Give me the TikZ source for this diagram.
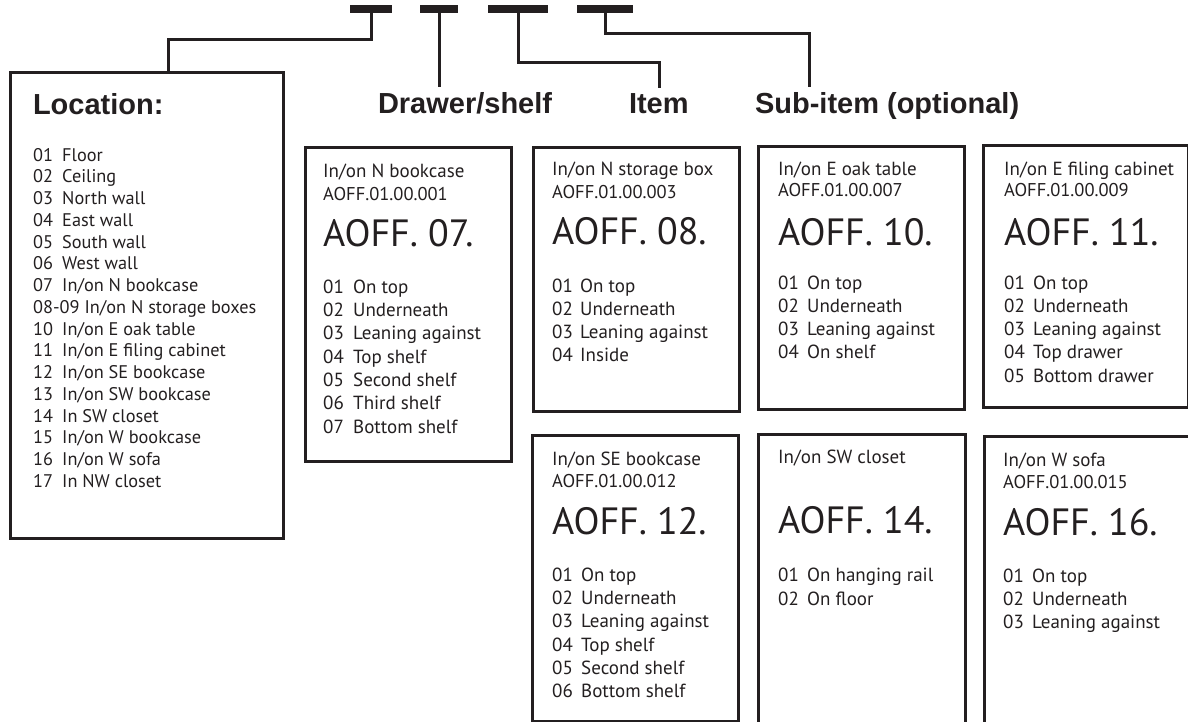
\documentclass[tikz,border=0pt]{standalone}
\usepackage{fontspec}
\setmainfont{PT Sans}
\newfontfamily\headfont{Liberation Sans}
\definecolor{ink}{HTML}{231F20}

% one list of numbered entries: name, x of number, x of text, y of first baseline, pitch, entries
\newcommand\entries[6]{%
  \foreach \cnum/\ctxt [count=\k] in {#6} {
    \node[txt] (#1n\k) at (#2,{#4+#5*(\k-1)}) {\cnum};
    \node[txt] (#1t\k) at (#3,{#4+#5*(\k-1)}) {\ctxt};
  }}

\begin{document}
\begin{tikzpicture}[x=1pt,y=-1pt,
  bar/.style={fill=ink, draw=none, inner sep=0pt, outer sep=0pt,
              minimum width=#1, minimum height=8.3pt},
  frame/.style={draw=ink, line width=3pt, anchor=north west, inner sep=0pt},
  conn/.style={draw=ink, line width=3pt},
  head/.style={text=ink, anchor=base west, inner sep=0pt, outer xsep=0pt, outer ysep=5pt,
               font=\headfont\bfseries\fontsize{29}{29}\selectfont},
  txt/.style={text=ink, anchor=base west, inner sep=0pt, font=\fontsize{19}{19}\selectfont},
  ltxt/.style={txt, font=\fontsize{18.3}{18.3}\selectfont},
  code/.style={txt, font=\fontsize{18.5}{18.5}\selectfont},
  big/.style={txt, font=\fontsize{38}{38}\selectfont},
]
\useasboundingbox (0,0) rectangle (1188,721);
\clip (0,0) rectangle (1188,721);

% code field bars
\node[bar=42pt] (bar1) at (371,9.2) {};
\node[bar=38pt] (bar2) at (439,9.2) {};
\node[bar=60pt] (bar3) at (518,9.2) {};
\node[bar=56pt] (bar4) at (605,9.2) {};

% headings
\node[head] (hloc) at (33,114) {Location:};
\node[head] (hdraw) at (378,113) {Drawer/shelf};
\node[head] (hitem) at (629,113) {Item};
\node[head] (hsub) at (755,113) {Sub-item (optional)};

% boxes
\node[frame, minimum width=273pt, minimum height=466pt] (loc)  at (8.5,71) {};
\node[frame, minimum width=206pt, minimum height=314pt] (bk07) at (304,146) {};
\node[frame, minimum width=206pt, minimum height=264pt] (bx08) at (531.7,146) {};
\node[frame, minimum width=206.6pt, minimum height=263pt] (tb10) at (756.7,145) {};
\node[frame, minimum width=205pt, minimum height=261.7pt] (fc11) at (981.7,144.3) {};
\node[frame, minimum width=206pt, minimum height=286pt] (bk12) at (531,434) {};
\node[frame, minimum width=207pt, minimum height=300pt] (cl14) at (757,433) {};
\node[frame, minimum width=260pt, minimum height=300pt] (sf16) at (983,435) {};

% connectors from the bars
\coordinate (k1) at (168,39);
\coordinate (k3) at (659,62);
\coordinate (k4) at (809,33);
\draw[conn] (bar1.center) |- (k1) -- (k1 |- loc.north);
\draw[conn] (bar2.center) -- (bar2.center |- hdraw.north);
\draw[conn] (bar3.center) |- (k3) -- (k3 |- hitem.north);
\draw[conn] (bar4.center) |- (k4) -- (k4 |- hsub.north);

% location list
\foreach \cnum/\ctxt [count=\k] in {01/Floor, 02/Ceiling, 03/North wall, 04/East wall,
    05/South wall, 06/West wall, 07/In\slash on N bookcase,
    08-09 In\slash on N storage boxes/{}, 10/In\slash on E oak table,
    11/In\slash on E filing cabinet, 12/In\slash on SE bookcase,
    13/In\slash on SW bookcase, 14/In SW closet, 15/In\slash on W bookcase,
    16/In\slash on W sofa, 17/In NW closet} {
  \node[ltxt] (ln\k) at (33,{161+21.75*(\k-1)}) {\cnum};
  \node[ltxt] (lt\k) at (62,{161+21.75*(\k-1)}) {\ctxt};
}

% N bookcase
\node[txt]  (bk07a) at (323,177.7) {In/on N bookcase};
\node[code] (bk07b) at (323,200) {AOFF.01.00.001};
\node[big]  (bk07c) at (323,246.7) {AOFF. 07.};
\entries{bk07}{323}{353}{293.3}{23.33}{01/On top, 02/Underneath, 03/Leaning against,
  04/Top shelf, 05/Second shelf, 06/Third shelf, 07/Bottom shelf}

% N storage box
\node[txt]  (bx08a) at (552,175) {In/on N storage box};
\node[code] (bx08b) at (552,198) {AOFF.01.00.003};
\node[big]  (bx08c) at (552,244) {AOFF. 08.};
\entries{bx08}{552}{580}{292}{23.25}{01/On top, 02/Underneath, 03/Leaning against, 04/Inside}

% E oak table
\node[txt]  (tb10a) at (778,175) {In/on E oak table};
\node[code] (tb10b) at (778,196.7) {AOFF.01.00.007};
\node[big]  (tb10c) at (778,245) {AOFF. 10.};
\entries{tb10}{778}{807}{289}{23.33}{01/On top, 02/Underneath, 03/Leaning against, 04/On shelf}

% E filing cabinet
\node[txt]  (fc11a) at (1004,175) {In/on E filing cabinet};
\node[code] (fc11b) at (1004,196.7) {AOFF.01.00.009};
\node[big]  (fc11c) at (1004,245) {AOFF. 11.};
\entries{fc11}{1004}{1033}{289}{23.33}{01/On top, 02/Underneath, 03/Leaning against,
  04/Top drawer, 05/Bottom drawer}

% SE bookcase
\node[txt]  (bk12a) at (552,465) {In/on SE bookcase};
\node[code] (bk12b) at (552,487.7) {AOFF.01.00.012};
\node[big]  (bk12c) at (552,534) {AOFF. 12.};
\entries{bk12}{552}{581}{581}{23.33}{01/On top, 02/Underneath, 03/Leaning against,
  04/Top shelf, 05/Second shelf, 06/Bottom shelf}

% SW closet
\node[txt]  (cl14a) at (778,463.3) {In/on SW closet};
\node[big]  (cl14c) at (778,533) {AOFF. 14.};
\entries{cl14}{778}{807}{581.7}{23.33}{01/On hanging rail, 02/On floor}

% W sofa
\node[txt]  (sf16a) at (1003,466) {In/on W sofa};
\node[code] (sf16b) at (1003,488) {AOFF.01.00.015};
\node[big]  (sf16c) at (1003,535) {AOFF. 16.};
\entries{sf16}{1003}{1032}{582}{23.33}{01/On top, 02/Underneath, 03/Leaning against}
\end{tikzpicture}
\end{document}
